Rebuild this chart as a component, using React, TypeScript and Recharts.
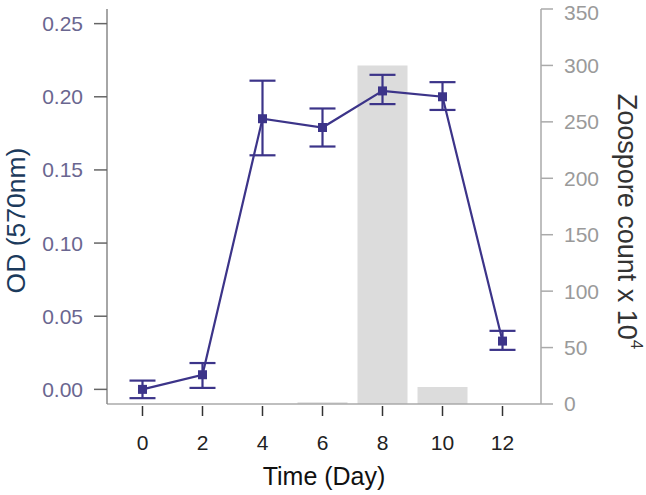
import React from 'react';
import { ComposedChart, Bar, Line, XAxis, YAxis, ErrorBar } from 'recharts';

const days = [0, 2, 4, 6, 8, 10, 12];
const odValues = [0.0, 0.01, 0.185, 0.179, 0.204, 0.2, 0.033];
const odErrLow = [0.006, 0.009, 0.025, 0.013, 0.009, 0.009, 0.006];
const odErrHigh = [0.006, 0.008, 0.026, 0.013, 0.011, 0.01, 0.007];
const zoosporeCounts = [0, 0, 0, 1.5, 300, 15, 0];
const xTicks = [0, 2, 4, 6, 8, 10, 12];
const odTicks = [0, 0.05, 0.1, 0.15, 0.2, 0.25];
const countTicks = [0, 50, 100, 150, 200, 250, 300, 350];

const data = days.map((d, i) => ({
  day: d,
  od: odValues[i],
  err: [odErrLow[i], odErrHigh[i]],
  count: zoosporeCounts[i],
}));

const FONT = '"Liberation Sans", Arial, sans-serif';
const LINE = '#3c3489';

const XTick = (props: any) => {
  const { x, y, payload } = props;
  return (
    <g>
      <line x1={x} x2={x} y1={y + 2} y2={y + 12} stroke="#333" strokeWidth={1.5} />
      <text x={x} y={y + 46} textAnchor="middle" fill="#222" fontSize={21} fontFamily={FONT}>
        {payload.value}
      </text>
    </g>
  );
};

const Square = (props: any) => {
  const { cx, cy, index } = props;
  if (cx == null || cy == null) return <g key={index} />;
  return <rect key={index} x={cx - 4.5} y={cy - 4.5} width={9} height={9} fill={LINE} />;
};

const LeftTitle = (props: any) => {
  const vb = props.viewBox;
  const cx = vb.x + 16;
  const cy = vb.y + vb.height / 2 + 14;
  return (
    <text x={cx} y={cy} transform={`rotate(-90 ${cx} ${cy})`} textAnchor="middle" dominantBaseline="central"
      fill="#1b3a5c" fontSize={26.5} fontFamily={FONT}>
      OD (570nm)
    </text>
  );
};

const RightTitle = (props: any) => {
  const vb = props.viewBox;
  const cx = vb.x + 86;
  const cy = vb.y + vb.height / 2 + 15;
  return (
    <text x={cx} y={cy} transform={`rotate(90 ${cx} ${cy})`} textAnchor="middle" dominantBaseline="central"
      fill="#333" fontSize={27} fontFamily={FONT}>
      Zoospore count x 10
      <tspan fontSize={17} dy={-10}>4</tspan>
    </text>
  );
};

const BottomTitle = (props: any) => {
  const vb = props.viewBox;
  return (
    <text x={vb.x + vb.width / 2} y={vb.y + 81} textAnchor="middle" fill="#111" fontSize={25} fontFamily={FONT}>
      Time (Day)
    </text>
  );
};

export default function App() {
  return (
    <div style={{ position: 'absolute', left: 0, top: 0, background: '#fff' }}>
      <ComposedChart width={646} height={495} data={data} margin={{ top: 9, right: 0, bottom: 0, left: 0 }}>
        <XAxis
          xAxisId="top"
          orientation="top"
          dataKey="day"
          type="number"
          domain={[-1.183, 13.283]}
          allowDataOverflow
          height={0}
          tick={false}
          tickLine={false}
          axisLine={{ stroke: '#c4c4c4', strokeWidth: 1.5 }}
        />
        <XAxis
          dataKey="day"
          type="number"
          domain={[-1.183, 13.283]}
          allowDataOverflow
          ticks={xTicks}
          height={91}
          tickSize={0}
          tickMargin={0}
          tickLine={false}
          tick={<XTick />}
          axisLine={{ stroke: '#aaaaaa', strokeWidth: 1.5 }}
          label={<BottomTitle />}
        />
        <YAxis
          yAxisId="left"
          orientation="left"
          width={107}
          domain={[-0.01, 0.26]}
          allowDataOverflow
          ticks={odTicks}
          tickFormatter={(v: number) => v.toFixed(2)}
          tickSize={13}
          tickMargin={11}
          tick={{ fill: '#6a6690', fontSize: 21, fontFamily: FONT }}
          tickLine={{ stroke: '#666', strokeWidth: 1.5 }}
          axisLine={{ stroke: '#888', strokeWidth: 1.5 }}
          label={<LeftTitle />}
        />
        <YAxis
          yAxisId="right"
          orientation="right"
          width={105}
          domain={[0, 350]}
          allowDataOverflow
          ticks={countTicks}
          tickSize={12}
          tickMargin={11}
          tick={{ fill: '#9a9a9a', fontSize: 21, fontFamily: FONT }}
          tickLine={{ stroke: '#aaa', strokeWidth: 1.5 }}
          axisLine={{ stroke: '#aaa', strokeWidth: 1.5 }}
          label={<RightTitle />}
        />
        <Bar yAxisId="right" dataKey="count" fill="#dcdcdc" barSize={50} isAnimationActive={false} />
        <Line
          yAxisId="left"
          dataKey="od"
          stroke={LINE}
          strokeWidth={2.2}
          dot={Square}
          activeDot={false}
          isAnimationActive={false}
        >
          <ErrorBar dataKey="err" width={13} stroke={LINE} strokeWidth={2.2} direction="y" />
        </Line>
      </ComposedChart>
    </div>
  );
}
